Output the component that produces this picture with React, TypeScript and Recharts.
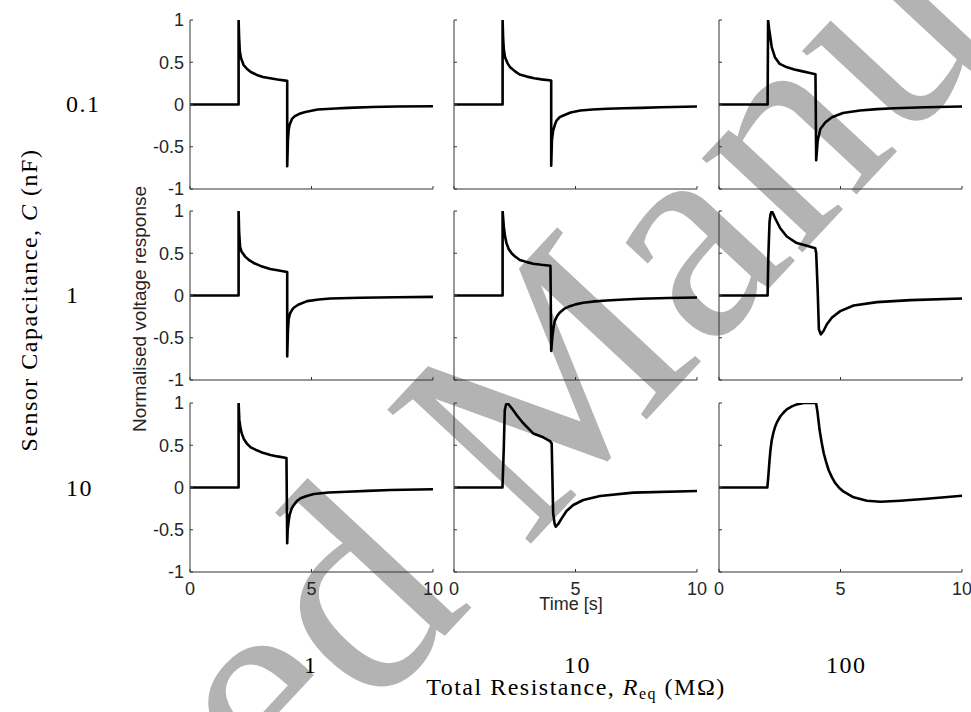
import React from 'react';
import { LineChart, Line, XAxis, YAxis } from 'recharts';

// ---- tick labels & category labels ----
const timeTicks = [0, 5, 10];
const voltageTicks = [-1, -0.5, 0, 0.5, 1];
const capacitanceLabels = ['0.1', '1', '10'];
const resistanceLabels = ['1', '10', '100'];

// ---- series: C = 0.1 nF ----
const t_C01_R1 = [0, 2, 2, 2.02, 2.05, 2.1, 2.2, 2.35, 2.5, 2.75, 3.0, 3.3, 3.6, 4, 4, 4.03, 4.06, 4.1, 4.2, 4.3, 4.5, 4.75, 5.25, 6, 6.5, 7.5, 8.5, 10];
const v_C01_R1 = [0, 0, 1, 0.8, 0.63, 0.55, 0.47, 0.42, 0.385, 0.35, 0.325, 0.31, 0.295, 0.28, -0.73, -0.42, -0.3, -0.24, -0.17, -0.14, -0.11, -0.088, -0.06, -0.047, -0.04, -0.03, -0.024, -0.02];

const t_C01_R10 = [0, 2, 2, 2.02, 2.05, 2.1, 2.2, 2.3, 2.5, 2.7, 3.0, 3.3, 3.6, 4, 4, 4.03, 4.08, 4.15, 4.22, 4.35, 4.5, 4.8, 5.2, 5.7, 6.3, 7, 7.7, 8.5, 10];
const v_C01_R10 = [0, 0, 1, 0.8, 0.65, 0.56, 0.49, 0.445, 0.395, 0.355, 0.33, 0.31, 0.297, 0.285, -0.725, -0.42, -0.31, -0.24, -0.19, -0.15, -0.13, -0.095, -0.071, -0.06, -0.05, -0.045, -0.04, -0.033, -0.024];

const t_C01_R100 = [0, 2, 2.02, 2.06, 2.1, 2.17, 2.3, 2.5, 2.8, 3.1, 3.4, 3.7, 3.97, 4.0, 4.06, 4.17, 4.38, 4.65, 5.1, 5.8, 6.5, 7.2, 8.5, 10];
const v_C01_R100 = [0, 0, 1, 0.9, 0.82, 0.68, 0.56, 0.48, 0.44, 0.415, 0.395, 0.375, 0.357, -0.66, -0.43, -0.29, -0.21, -0.15, -0.1, -0.071, -0.055, -0.044, -0.032, -0.024];

// ---- series: C = 1 nF ----
const t_C1_R1 = [0, 2, 2, 2.02, 2.06, 2.12, 2.27, 2.45, 2.62, 2.9, 3.3, 3.6, 4, 4, 4.03, 4.06, 4.12, 4.2, 4.27, 4.45, 4.82, 5.3, 5.78, 7, 8.5, 10];
const v_C1_R1 = [0, 0, 1, 0.76, 0.58, 0.52, 0.46, 0.415, 0.385, 0.35, 0.314, 0.298, 0.279, -0.72, -0.42, -0.28, -0.21, -0.17, -0.145, -0.11, -0.067, -0.048, -0.035, -0.026, -0.02, -0.016];

const t_C1_R10 = [0, 2, 2, 2.05, 2.1, 2.16, 2.25, 2.37, 2.5, 2.71, 3.0, 3.26, 3.6, 3.97, 4.0, 4.05, 4.1, 4.15, 4.25, 4.36, 4.55, 4.77, 5.0, 5.32, 5.8, 6.28, 7, 7.66, 8.8, 10];
const v_C1_R10 = [0, 0, 1, 0.815, 0.7, 0.62, 0.55, 0.5, 0.465, 0.42, 0.395, 0.376, 0.363, 0.353, -0.655, -0.48, -0.37, -0.3, -0.24, -0.2, -0.155, -0.126, -0.105, -0.086, -0.07, -0.059, -0.048, -0.039, -0.03, -0.024];

const t_C1_R100 = [0, 1.99, 2.0, 2.03, 2.08, 2.12, 2.17, 2.24, 2.31, 2.52, 2.79, 3.2, 3.62, 3.96, 4.0, 4.06, 4.11, 4.19, 4.3, 4.44, 4.65, 4.99, 5.54, 6.5, 7.88, 10];
const v_C1_R100 = [0, 0, 0, 0.46, 0.874, 0.96, 1.0, 0.96, 0.914, 0.796, 0.698, 0.62, 0.588, 0.56, 0.5, 0.07, -0.4, -0.46, -0.42, -0.34, -0.26, -0.185, -0.118, -0.078, -0.055, -0.035];

// ---- series: C = 10 nF ----
const t_C10_R1 = [0, 2, 2, 2.03, 2.08, 2.13, 2.22, 2.34, 2.5, 2.75, 3.0, 3.31, 3.6, 3.97, 4.0, 4.02, 4.06, 4.1, 4.18, 4.27, 4.4, 4.55, 4.8, 5.1, 5.7, 6.47, 7.3, 8.26, 10];
const v_C10_R1 = [0, 0, 1, 0.8, 0.7, 0.64, 0.57, 0.52, 0.475, 0.44, 0.41, 0.385, 0.368, 0.35, -0.66, -0.5, -0.4, -0.325, -0.25, -0.207, -0.16, -0.128, -0.1, -0.077, -0.06, -0.05, -0.04, -0.03, -0.021];

const t_C10_R10 = [0, 1.995, 2.05, 2.09, 2.14, 2.2, 2.37, 2.57, 2.85, 3.26, 3.67, 3.95, 4.02, 4.08, 4.14, 4.19, 4.29, 4.43, 4.63, 4.91, 5.32, 6.01, 7.38, 10];
const v_C10_R10 = [0, 0, 0.48, 0.917, 0.98, 1.0, 0.94, 0.86, 0.76, 0.64, 0.594, 0.55, 0.52, -0.305, -0.43, -0.464, -0.432, -0.365, -0.278, -0.207, -0.148, -0.1, -0.061, -0.041];

const t_C10_R100 = [0, 1.99, 2.04, 2.08, 2.12, 2.17, 2.24, 2.31, 2.4, 2.52, 2.65, 2.79, 3.0, 3.2, 3.48, 3.96, 4.0, 4.05, 4.14, 4.22, 4.31, 4.41, 4.51, 4.65, 4.79, 4.95, 5.13, 5.54, 6.09, 6.64, 7.46, 8.56, 10];
const v_C10_R100 = [0, 0, 0.17, 0.325, 0.45, 0.56, 0.65, 0.72, 0.78, 0.84, 0.885, 0.925, 0.96, 0.984, 1.0, 1.0, 0.99, 0.9, 0.68, 0.54, 0.405, 0.3, 0.207, 0.12, 0.05, -0.005, -0.05, -0.116, -0.156, -0.168, -0.156, -0.133, -0.097];

const seriesGrid: [number[], number[]][][] = [
  [[t_C01_R1, v_C01_R1], [t_C01_R10, v_C01_R10], [t_C01_R100, v_C01_R100]],
  [[t_C1_R1, v_C1_R1], [t_C1_R10, v_C1_R10], [t_C1_R100, v_C1_R100]],
  [[t_C10_R1, v_C10_R1], [t_C10_R10, v_C10_R10], [t_C10_R100, v_C10_R100]],
];

const toRows = (t: number[], v: number[]) => t.map((x, i) => ({ t: x, v: v[i] }));

// ---- layout ----
const COL_LEFT = [190, 454, 719];
const ROW_TOP = [20, 211, 403];
const PLOT_W = 243;
const PLOT_H = 169;
const Y_AXIS_W = 60;
const X_AXIS_H = 40;
const M_TOP = 10;
const M_RIGHT = 15;

const AXIS_COLOR = '#333333';
const TEXT_COLOR = '#262626';
const SANS = '"Liberation Sans", Arial, Helvetica, sans-serif';
const SERIF = '"Liberation Serif", "Times New Roman", serif';
const SERIF_SIZE = 24;
const SERIF_SPACING = 1.5;

function Panel({ r, c }: { r: number; c: number }) {
  const [t, v] = seriesGrid[r][c];
  const data = toRows(t, v);
  const showX = r === 2;
  const showY = c === 0;
  return (
    <div style={{ position: 'absolute', left: COL_LEFT[c] - Y_AXIS_W, top: ROW_TOP[r] - M_TOP }}>
      <LineChart
        width={Y_AXIS_W + PLOT_W + M_RIGHT}
        height={M_TOP + PLOT_H + X_AXIS_H}
        data={data}
        margin={{ top: M_TOP, right: M_RIGHT, bottom: 0, left: 0 }}
      >
        <XAxis
          dataKey="t"
          type="number"
          domain={[0, 10]}
          ticks={timeTicks}
          interval={0}
          height={X_AXIS_H}
          allowDataOverflow
          axisLine={{ stroke: AXIS_COLOR, strokeWidth: 1 }}
          tickLine={{ stroke: AXIS_COLOR, strokeWidth: 1 }}
          tickSize={-3}
          tickMargin={13}
          tick={{ fill: TEXT_COLOR, fontSize: 18, fontFamily: SANS }}
          tickFormatter={(x: number) => (showX ? String(x) : '')}
        />
        <YAxis
          type="number"
          domain={[-1, 1]}
          ticks={voltageTicks}
          interval={0}
          width={Y_AXIS_W}
          allowDataOverflow
          axisLine={{ stroke: AXIS_COLOR, strokeWidth: 1 }}
          tickLine={{ stroke: AXIS_COLOR, strokeWidth: 1 }}
          tickSize={-3}
          tickMargin={9}
          tick={{ fill: TEXT_COLOR, fontSize: 18, fontFamily: SANS }}
          tickFormatter={(y: number) => (showY ? String(y) : '')}
        />
        <Line
          type="linear"
          dataKey="v"
          stroke="#000000"
          strokeWidth={2.6}
          dot={false}
          activeDot={false}
          isAnimationActive={false}
          strokeLinejoin="round"
        />
      </LineChart>
    </div>
  );
}

export default function App() {
  return (
    <div style={{ position: 'absolute', left: 0, top: 0, width: 971, height: 712, background: '#ffffff', overflow: 'hidden' }}>
      {/* watermark */}
      <svg width={971} height={712} style={{ position: 'absolute', left: 0, top: 0 }}>
        <g transform="translate(525,550) rotate(-47)" fill="#b3b3b3" fontFamily={SERIF} fontSize={300}>
          <text x={-75} y={0} textAnchor="end">Accepted</text>
          <text x={0} y={0}>Manuscript</text>
        </g>
      </svg>
      {[0, 1, 2].map((r) => [0, 1, 2].map((c) => <Panel key={`${r}-${c}`} r={r} c={c} />))}
      <svg width={971} height={712} style={{ position: 'absolute', left: 0, top: 0, pointerEvents: 'none' }}>
        <text transform="translate(146,309) rotate(-90)" textAnchor="middle" fontFamily={SANS} fontSize={19} fill={TEXT_COLOR}>
          Normalised voltage response
        </text>
        <text x={571} y={610} textAnchor="middle" fontFamily={SANS} fontSize={18} fill={TEXT_COLOR}>
          Time [s]
        </text>
        {capacitanceLabels.map((lab, i) => (
          <text key={lab} x={66} y={[112, 303, 496][i]} fontFamily={SERIF} fontSize={SERIF_SIZE} letterSpacing={SERIF_SPACING} fill="#000">
            {lab}
          </text>
        ))}
        <text transform="translate(37,300) rotate(-90)" textAnchor="middle" fontFamily={SERIF} fontSize={SERIF_SIZE} letterSpacing={SERIF_SPACING} fill="#000">
          Sensor Capacitance, <tspan fontStyle="italic">C</tspan> (nF)
        </text>
        {resistanceLabels.map((lab, i) => (
          <text key={lab} x={[304, 564, 826][i]} y={673} fontFamily={SERIF} fontSize={SERIF_SIZE} letterSpacing={SERIF_SPACING} fill="#000">
            {lab}
          </text>
        ))}
        <text x={576} y={695} textAnchor="middle" fontFamily={SERIF} fontSize={SERIF_SIZE} letterSpacing={SERIF_SPACING} fill="#000">
          Total Resistance, <tspan fontStyle="italic">R</tspan>
          <tspan fontSize={16} dy={4}>eq</tspan>
          <tspan dy={-4}> (MΩ)</tspan>
        </text>
      </svg>
    </div>
  );
}
